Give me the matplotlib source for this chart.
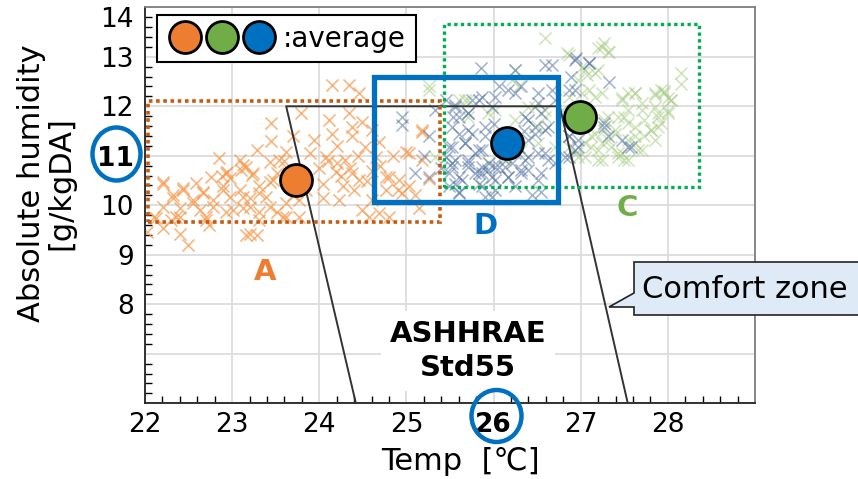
import matplotlib
matplotlib.use("Agg")
import matplotlib.pyplot as plt
from matplotlib.patches import Rectangle, Ellipse, Polygon
from matplotlib.legend_handler import HandlerTuple
from matplotlib.ticker import MultipleLocator

plt.rcParams['font.family'] = ['DejaVu Sans', 'Noto Sans CJK JP']

# scatter clouds (temp [C], abs. humidity [g/kgDA])
a_x = [23.45, 23.45, 23.28, 22.85, 23.09, 23.12, 22.94, 22.76, 23.23, 22.21,
       22.44, 22.67, 22.89, 23.09, 23.31, 23.43, 22.32, 22.55, 22.78, 22.97,
       23.20, 22.21, 22.40, 22.63, 22.93, 23.12, 23.31, 23.51, 22.10, 22.36,
       22.70, 23.62, 22.02, 22.21, 22.40, 22.74, 23.20, 22.49, 23.54, 23.62,
       23.70, 23.10, 23.51, 23.39, 24.15, 24.34, 24.46, 23.79, 24.11, 24.49,
       23.94, 24.15, 24.38, 24.53, 24.69, 25.18, 23.89, 24.08, 24.30, 24.99,
       25.18, 24.00, 24.19, 24.38, 24.76, 24.91, 24.04, 24.27, 24.46, 24.76,
       25.03, 23.77, 24.04, 24.23, 24.49, 24.69, 25.14, 23.77, 24.57, 24.80,
       25.26, 24.34, 24.61, 25.18, 25.03, 24.80, 24.65, 24.38, 22.58, 22.98,
       23.60, 23.85, 24.20, 24.60, 22.30, 22.88, 23.70, 24.95,
       23.16, 23.43, 22.21, 22.93, 23.24, 23.47, 22.44, 22.67, 22.89, 23.12,
       23.31, 22.32, 22.55, 22.78, 23.01, 23.20, 23.43, 23.62, 22.13, 22.40,
       22.70, 23.31, 23.58, 23.16, 23.28, 24.10, 24.25, 24.40, 24.55, 24.70,
       24.85, 24.20, 24.45, 24.90, 25.10, 24.60, 24.35]
a_y = [11.66, 11.29, 11.12, 10.95, 10.92, 10.81, 10.68, 10.58, 10.61, 10.44,
       10.34, 10.27, 10.38, 10.31, 10.38, 10.48, 10.21, 10.11, 10.11, 10.17,
       10.14, 9.97, 9.94, 9.91, 9.87, 9.94, 9.87, 9.87, 9.77, 9.77,
       9.77, 9.77, 9.47, 9.54, 9.43, 9.60, 9.43, 9.20, 10.92, 11.08,
       11.39, 10.71, 10.65, 10.17, 12.43, 12.43, 12.26, 11.86, 11.72, 11.69,
       11.32, 11.45, 11.39, 11.18, 11.28, 11.49, 11.05, 10.98, 10.92, 11.08,
       10.92, 10.75, 10.68, 10.65, 10.58, 10.51, 10.44, 10.38, 10.51, 10.31,
       10.38, 10.11, 10.14, 10.11, 9.91, 9.84, 9.94, 9.77, 9.77, 9.77,
       10.54, 11.86, 11.52, 11.52, 11.05, 10.58, 10.98, 11.58, 10.45, 10.55,
       10.90, 10.30, 10.85, 10.70, 9.70, 10.60, 10.20, 10.25,
       10.78, 10.88, 10.48, 10.65, 10.65, 10.51, 10.31, 10.24, 10.31, 10.17,
       10.24, 10.14, 10.04, 9.97, 9.91, 9.97, 9.97, 10.04, 9.74, 9.77,
       9.70, 9.70, 9.77, 9.40, 9.40, 10.90, 10.60, 10.30, 10.50, 10.80,
       11.00, 11.20, 11.00, 10.30, 10.20, 10.10, 10.75]

d_x = [25.85, 26.25, 24.95, 24.95, 25.33, 25.56, 25.71, 25.87, 26.06, 25.52,
       25.67, 25.49, 25.90, 25.26, 25.10, 25.26, 25.52, 25.71, 25.87, 26.02,
       26.17, 26.32, 25.56, 25.83, 26.02, 25.90, 25.45, 25.79, 26.10, 26.29,
       26.59, 26.93, 27.10, 27.33, 26.17, 26.32, 26.51, 25.75, 26.02, 25.56,
       25.71, 25.60, 26.40, 26.55, 26.63, 26.48, 25.87, 26.25, 26.40, 26.59,
       25.56, 25.49, 25.71, 25.94, 26.13, 26.40, 26.55, 25.83, 25.64, 26.02,
       25.60, 26.55, 26.93, 27.27, 27.54, 26.86, 26.70, 26.86, 27.09, 26.67,
       27.58, 27.27, 26.97, 26.86, 25.40, 25.95, 26.35, 26.70, 25.20, 26.00,
       25.54, 25.71, 25.83, 25.60, 25.75, 25.90, 25.52, 25.67, 25.83, 26.36,
       26.48, 26.59, 26.40, 26.51, 26.63, 25.52, 25.71, 25.87, 26.06, 26.21,
       26.36, 25.60, 25.79, 25.98, 26.17, 26.32, 26.51, 25.49, 25.87, 26.25,
       25.60, 25.98, 26.44, 26.51, 26.67, 26.25, 25.98, 25.45, 26.95, 26.89,
       26.93, 27.31, 27.47, 26.86, 26.97, 26.82]
d_y = [12.77, 12.73, 11.62, 11.79, 11.93, 12.03, 11.86, 12.19, 12.40, 11.59,
       11.25, 11.18, 11.39, 11.39, 10.65, 10.58, 10.78, 10.85, 10.65, 10.78,
       10.58, 10.71, 10.44, 10.44, 10.31, 10.17, 10.98, 11.05, 10.98, 11.18,
       12.83, 12.94, 12.87, 12.50, 12.33, 12.40, 12.26, 12.13, 12.19, 11.99,
       11.52, 11.79, 11.72, 11.86, 11.59, 11.45, 11.12, 11.05, 10.98, 11.05,
       10.92, 10.65, 10.78, 10.71, 10.78, 10.71, 10.65, 10.65, 10.51, 10.51,
       10.27, 10.27, 11.12, 11.59, 11.18, 11.39, 12.13, 12.33, 12.87, 12.83,
       11.18, 11.66, 11.32, 10.98, 10.75, 10.85, 11.50, 10.85, 11.00, 11.65,
       11.79, 11.86, 12.13, 11.45, 11.45, 11.59, 11.18, 11.25, 11.12, 11.79,
       11.59, 11.52, 11.32, 11.05, 10.92, 10.85, 10.92, 10.78, 10.78, 10.85,
       10.92, 10.58, 10.65, 10.58, 10.58, 10.65, 10.51, 10.38, 10.38, 10.38,
       10.24, 10.17, 10.21, 12.06, 12.33, 12.26, 11.99, 12.13, 12.97, 12.60,
       12.33, 11.39, 11.32, 11.39, 11.18, 10.98]

c_x = [26.59, 27.27, 27.33, 27.20, 26.84, 26.25, 27.05, 27.20, 28.15, 28.15,
       27.62, 27.47, 27.92, 28.00, 27.70, 27.54, 27.85, 28.00, 27.31, 27.54,
       27.73, 27.89, 27.39, 27.62, 27.85, 27.24, 27.47, 27.70, 27.05, 27.24,
       27.54, 27.16, 27.05, 26.70, 26.51, 26.32, 26.40, 26.59, 26.25, 26.78,
       27.01, 27.16, 25.71, 26.02, 25.94, 26.13, 25.33, 25.26, 25.26, 25.60,
       25.71, 25.94, 26.21, 27.07, 27.54, 27.85, 27.96, 28.04, 27.89, 27.43,
       27.27, 27.81, 27.12, 27.35, 27.62, 27.20, 27.43, 26.86, 26.50, 26.95,
       26.29, 26.48, 26.59, 25.67, 26.13, 27.24, 27.31, 26.86, 27.01, 27.16,
       27.09, 27.24, 27.47, 27.62, 27.85, 27.96, 28.04, 27.70, 27.89, 28.00,
       27.50, 27.27, 27.39, 27.62, 27.81, 27.92, 27.12, 27.31, 27.54, 27.73,
       27.20, 27.43, 27.66, 26.97, 27.50, 26.86, 26.97]
c_y = [13.37, 13.27, 13.10, 13.17, 13.07, 12.73, 12.73, 12.73, 12.67, 12.46,
       12.26, 12.16, 12.33, 12.16, 12.06, 11.93, 11.99, 11.86, 11.79, 11.66,
       11.72, 11.59, 11.45, 11.39, 11.32, 11.25, 11.05, 11.12, 10.98, 10.92,
       10.92, 11.45, 11.25, 11.18, 11.25, 11.12, 11.99, 11.93, 11.72, 11.93,
       12.26, 12.19, 12.13, 11.93, 10.85, 10.92, 10.98, 12.40, 12.33, 12.13,
       11.79, 11.86, 12.53, 12.63, 12.26, 12.26, 12.26, 12.13, 11.79, 11.79,
       11.52, 11.52, 11.18, 11.18, 11.25, 10.92, 10.98, 11.18, 11.60, 11.05,
       12.40, 11.99, 11.79, 12.13, 10.98, 13.20, 13.10, 13.04, 12.80, 12.67,
       12.33, 12.26, 12.13, 12.26, 12.23, 12.30, 12.13, 11.93, 11.86, 11.90,
       11.79, 11.72, 11.52, 11.59, 11.52, 11.66, 11.39, 11.32, 11.32, 11.39,
       11.12, 11.05, 11.12, 10.98, 10.92, 12.19, 12.53]

# averages (A, C, D)
avg_x = [23.73, 26.99, 26.15]
avg_y = [10.51, 11.78, 11.26]

# group boxes: x0, x1, y0, y1
box_a = [22.04, 25.39, 9.66, 12.11]
box_d = [24.63, 26.74, 10.07, 12.60]
box_c = [25.43, 28.36, 10.36, 13.66]

# ASHRAE Std55 comfort zone outline
comfort_x = [24.42, 23.62, 26.76, 27.54]
comfort_y = [6.0, 12.0, 12.0, 6.0]

x_ticks = [22, 23, 24, 25, 26, 27, 28, 29]
x_labels = ['22', '23', '24', '25', '26', '27', '28', '']
y_ticks = [6, 7, 8, 9, 10, 11, 12, 13, 14]
y_labels = ['', '', '8', '9', '10', '11', '12', '13', '14']

W, H = 858, 479
fig = plt.figure(figsize=(W / 100, H / 100), dpi=100)
ax = fig.add_axes([145 / W, 1 - 403.3 / H, 610 / W, 396 / H])


def px(x, y):
    return (x / W, 1 - y / H)


ax.set_xlim(22, 29)
ax.set_ylim(6, 14)
ax.set_xticks(x_ticks)
ax.set_xticklabels(x_labels)
ax.set_yticks(y_ticks)
ax.set_yticklabels(y_labels)
ax.xaxis.set_minor_locator(MultipleLocator(0.2))
ax.yaxis.set_minor_locator(MultipleLocator(0.2))
ax.tick_params(which='both', direction='in', labelsize=19, width=1)
ax.tick_params(which='major', length=0)
ax.tick_params(which='minor', length=5)
ax.tick_params(axis='x', pad=6)
ax.tick_params(axis='y', pad=8)
ax.get_xticklabels()[4].set_fontweight('bold')
ax.get_yticklabels()[5].set_fontweight('bold')
ax.get_yticklabels()[8].set_va('top')
ax.grid(True, which='major', color='#D9D9D9', lw=1.2)
ax.set_axisbelow(True)
for s in ['left', 'bottom']:
    ax.spines[s].set_color('#222222')
    ax.spines[s].set_linewidth(1.3)
for s in ['top', 'right']:
    ax.spines[s].set_color('#7F7F7F')
    ax.spines[s].set_linewidth(1.3)

ax.scatter(a_x, a_y, marker='x', s=75, color='#F79A4E', alpha=0.75, lw=1.1, zorder=2)
ax.scatter(c_x, c_y, marker='x', s=75, color='#A9CD85', alpha=0.55, lw=1.1, zorder=2)
ax.scatter(d_x, d_y, marker='x', s=75, color='#44679E', alpha=0.5, lw=1.1, zorder=2)

ax.plot(comfort_x, comfort_y, color='#333333', lw=1.4, zorder=3)

for b, col, ls, lw in [(box_a, '#C55A11', (0, (1, 1)), 2.6),
                       (box_c, '#00B050', (0, (1, 1)), 2.4),
                       (box_d, '#0070C0', '-', 3.8)]:
    ax.add_patch(Rectangle((b[0], b[2]), b[1] - b[0], b[3] - b[2], fill=False,
                           edgecolor=col, ls=ls, lw=lw, zorder=4))

avg_cols = ['#ED7D31', '#70AD47', '#0070C0']
handles = []
for x, y, col in zip(avg_x, avg_y, avg_cols):
    h, = ax.plot(x, y, 'o', ms=23, mfc=col, mec='black', mew=2, zorder=5)
    handles.append(h)

leg = ax.legend([tuple(handles)], [':average'], loc='upper left',
                bbox_to_anchor=(0.019, 0.981), borderaxespad=0,
                handler_map={tuple: HandlerTuple(ndivide=None, pad=0)},
                handlelength=4.0, handletextpad=0.2, fontsize=20,
                fancybox=False, framealpha=1, edgecolor='black',
                borderpad=0.35)
leg.get_frame().set_linewidth(1.5)

ax.text(23.38, 8.66, 'A', color='#ED7D31', fontsize=21, fontweight='bold',
        ha='center', va='center', zorder=6)
ax.text(25.91, 9.59, 'D', color='#0070C0', fontsize=21, fontweight='bold',
        ha='center', va='center', zorder=6)
ax.text(27.53, 9.95, 'C', color='#70AD47', fontsize=21, fontweight='bold',
        ha='center', va='center', zorder=6)
ax.text(25.71, 7.06, 'ASHHRAE\nStd55', fontsize=21, fontweight='bold',
        ha='center', va='center', linespacing=1.3, zorder=2.5,
        bbox=dict(facecolor='white', edgecolor='none', pad=6))

fig.text(*px(46, 183), 'Absolute humidity\n[g/kgDA]', rotation=90, fontsize=22,
         ha='center', va='center', multialignment='center', linespacing=1.0)
fig.text(*px(460, 461), 'Temp  [℃]', fontsize=22, ha='center', va='center')

# highlight circles round the bold tick labels
fig.add_artist(Ellipse(px(116.5, 154), 48 / W, 53 / H, fill=False,
                       edgecolor='#0070C0', lw=3.2))
fig.add_artist(Ellipse(px(496.5, 416), 50 / W, 52 / H, fill=False,
                       edgecolor='#0070C0', lw=3.2))

# callout for the comfort zone
call = [px(634, 262), px(870, 262), px(870, 315), px(634, 315), px(634, 307),
        px(609, 307), px(634, 293)]
fig.add_artist(Polygon(call, closed=True, facecolor='#DEEBF7',
                       edgecolor='#222222', lw=1.2))
fig.text(*px(642, 289), 'Comfort zone', fontsize=22, ha='left', va='center')

fig.savefig('out.png', dpi=100)
